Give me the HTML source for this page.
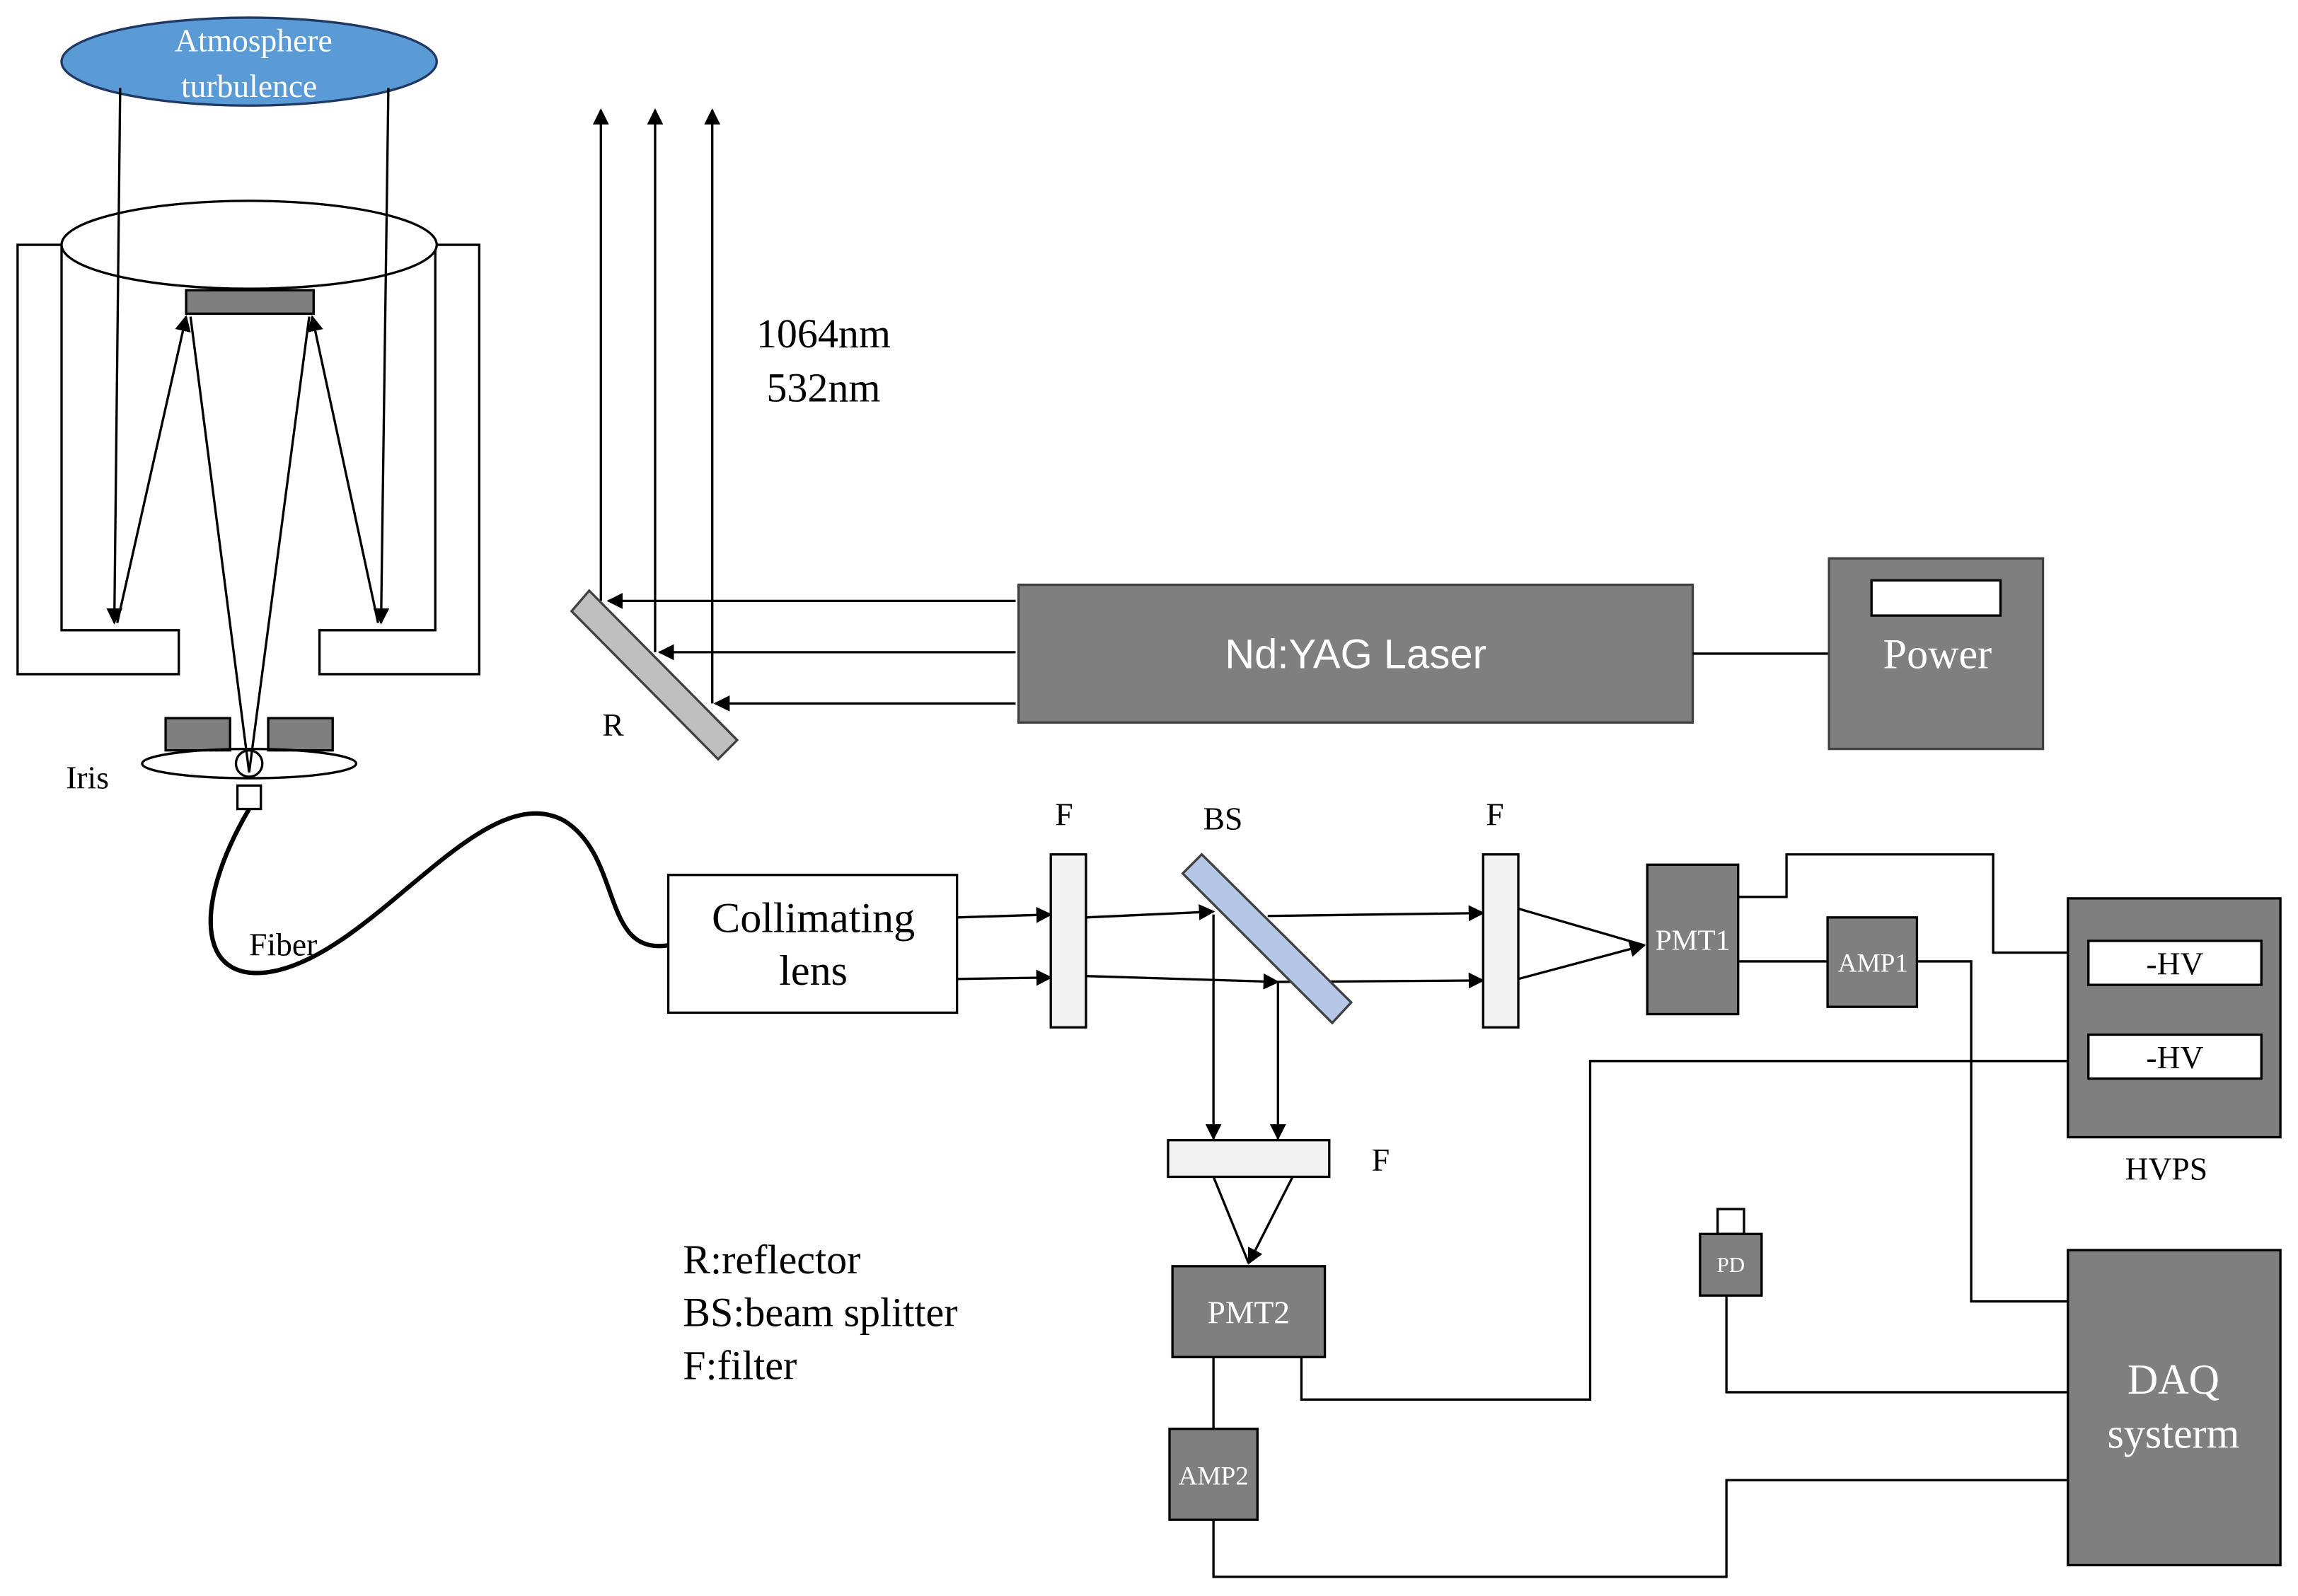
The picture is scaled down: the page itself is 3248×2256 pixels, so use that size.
<!DOCTYPE html>
<html><head><meta charset="utf-8"><style>
html,body{margin:0;padding:0;background:#fff;}
svg{display:block;}
text{font-family:"Liberation Serif",serif;}
</style></head><body>
<svg width="3248" height="2256" viewBox="0 0 1568 1089" xmlns="http://www.w3.org/2000/svg">
<defs>
<marker id="b" viewBox="0 0 10 10" refX="9" refY="5" markerWidth="11" markerHeight="11" orient="auto" markerUnits="userSpaceOnUse"><path d="M0,0 L10,5 L0,10 z" fill="#000"/></marker>
</defs>
<g stroke="#000" stroke-width="1.6" fill="none">
<ellipse cx="170" cy="42" rx="128" ry="30" fill="#5b9bd5" stroke="#1f3864"/>
<polygon points="42,167 12,167 12,460 122,460 122,430 42,430" fill="#fff"/>
<polygon points="297,167 327,167 327,460 218,460 218,430 297,430" fill="#fff"/>
<ellipse cx="170" cy="167" rx="128" ry="30" fill="#fff"/>
<rect x="127" y="198" width="87" height="16" fill="#7f7f7f"/>
<line x1="82" y1="60" x2="78" y2="425" marker-end="url(#b)"/>
<line x1="265" y1="60" x2="260" y2="425" marker-end="url(#b)"/>
<line x1="80" y1="425" x2="127" y2="216" marker-end="url(#b)"/>
<line x1="258" y1="425" x2="213" y2="216" marker-end="url(#b)"/>
<line x1="130" y1="216" x2="170" y2="527"/>
<line x1="211" y1="216" x2="170" y2="527"/>
<rect x="113" y="490" width="44" height="22" fill="#7f7f7f"/>
<rect x="183" y="490" width="44" height="22" fill="#7f7f7f"/>
<ellipse cx="170" cy="521" rx="73" ry="10"/>
<circle cx="170" cy="521" r="9"/>
<rect x="162" y="536" width="16" height="16" fill="#fff"/>
<path d="M170 552 C 130 620, 135 675, 190 662 C 260 645, 330 530, 385 560 C 425 585, 410 652, 456 645" stroke-width="3"/>
<line x1="410" y1="410" x2="410" y2="75" marker-end="url(#b)"/>
<line x1="447" y1="445" x2="447" y2="75" marker-end="url(#b)"/>
<line x1="486" y1="480" x2="486" y2="75" marker-end="url(#b)"/>
<line x1="693" y1="410" x2="415" y2="410" marker-end="url(#b)"/>
<line x1="693" y1="445" x2="450" y2="445" marker-end="url(#b)"/>
<line x1="693" y1="480" x2="488" y2="480" marker-end="url(#b)"/>
<polygon points="390,417 402,403 503,505 490,518" fill="#bfbfbf" stroke="#404040"/>
<rect x="695" y="399" width="460" height="94" fill="#7f7f7f" stroke="#404040"/>
<line x1="1155" y1="446" x2="1248" y2="446"/>
<rect x="1248" y="381" width="146" height="130" fill="#7f7f7f" stroke="#404040"/>
<rect x="1277" y="396" width="88" height="24" fill="#fff"/>
<rect x="456" y="597" width="197" height="94" fill="#fff"/>
<line x1="653" y1="626" x2="717" y2="624" marker-end="url(#b)"/>
<line x1="653" y1="668" x2="717" y2="667" marker-end="url(#b)"/>
<rect x="717" y="583" width="24" height="118" fill="#f2f2f2"/>
<line x1="741" y1="626" x2="828" y2="622" marker-end="url(#b)"/>
<line x1="741" y1="666" x2="872" y2="670" marker-end="url(#b)"/>
<line x1="865" y1="625" x2="1012" y2="623" marker-end="url(#b)"/>
<line x1="872" y1="670" x2="1012" y2="669" marker-end="url(#b)"/>
<line x1="828" y1="624" x2="828" y2="777" marker-end="url(#b)"/>
<line x1="872" y1="670" x2="872" y2="777" marker-end="url(#b)"/>
<polygon points="807,596 820,583 922,684 909,698" fill="#b4c7e7" stroke="#404040"/>
<rect x="1012" y="583" width="24" height="118" fill="#f2f2f2"/>
<line x1="1036" y1="620" x2="1122" y2="645"/>
<line x1="1036" y1="668" x2="1122" y2="645" marker-end="url(#b)"/>
<rect x="1124" y="590" width="62" height="102" fill="#7f7f7f"/>
<rect x="797" y="778" width="110" height="25" fill="#f2f2f2"/>
<line x1="828" y1="803" x2="852" y2="862"/>
<line x1="882" y1="803" x2="852" y2="862" marker-end="url(#b)"/>
<rect x="800" y="864" width="104" height="62" fill="#7f7f7f"/>
<line x1="828" y1="926" x2="828" y2="975"/>
<rect x="798" y="975" width="60" height="62" fill="#7f7f7f"/>
<polyline points="828,1037 828,1076 1178,1076 1178,1010 1411,1010"/>
<polyline points="888,926 888,955 1085,955 1085,724 1411,724"/>
<polyline points="1186,612 1219,612 1219,583 1360,583 1360,650 1411,650"/>
<line x1="1186" y1="656" x2="1247" y2="656"/>
<rect x="1247" y="626" width="61" height="61" fill="#7f7f7f"/>
<polyline points="1308,656 1345,656 1345,888 1411,888"/>
<rect x="1411" y="613" width="145" height="163" fill="#7f7f7f"/>
<rect x="1425" y="642" width="118" height="30" fill="#fff"/>
<rect x="1425" y="706" width="118" height="30" fill="#fff"/>
<rect x="1411" y="853" width="145" height="215" fill="#7f7f7f"/>
<rect x="1172" y="825" width="18" height="17" fill="#fff"/>
<rect x="1160" y="842" width="42" height="42" fill="#7f7f7f"/>
<polyline points="1178,884 1178,950 1411,950"/>
</g>
<g font-size="22" fill="#fff" text-anchor="middle">
<text x="173" y="35">Atmosphere</text>
<text x="170" y="66">turbulence</text>
</g>
<g fill="#000" font-size="22">
<text x="45" y="538">Iris</text>
<text x="170" y="652">Fiber</text>
<text x="411" y="502">R</text>
<text x="720" y="563">F</text>
<text x="821" y="566">BS</text>
<text x="1014" y="563">F</text>
<text x="936" y="799">F</text>
<text x="1450" y="805">HVPS</text>
</g>
<g fill="#000" font-size="28">
<text x="516" y="237">1064nm</text>
<text x="523" y="274">532nm</text>
<text x="466" y="869">R:reflector</text>
<text x="466" y="905">BS:beam splitter</text>
<text x="466" y="941">F:filter</text>
</g>
<g fill="#000" font-size="29" text-anchor="middle">
<text x="555" y="636">Collimating</text>
<text x="555" y="672">lens</text>
</g>
<g fill="#fff" text-anchor="middle">
<text x="925" y="456" font-size="28" style="font-family:'Liberation Sans',sans-serif">Nd:YAG Laser</text>
<text x="1322" y="456" font-size="29">Power</text>
<text x="1155" y="648" font-size="20">PMT1</text>
<text x="1278" y="663" font-size="18">AMP1</text>
<text x="852" y="903" font-size="22">PMT2</text>
<text x="828" y="1013" font-size="18">AMP2</text>
<text x="1181" y="868" font-size="15">PD</text>
<text x="1483" y="951" font-size="29">DAQ</text>
<text x="1483" y="988" font-size="29">systerm</text>
</g>
<g fill="#000" text-anchor="middle" font-size="22">
<text x="1484" y="665">-HV</text>
<text x="1484" y="729">-HV</text>
</g>
</svg>
</body></html>
